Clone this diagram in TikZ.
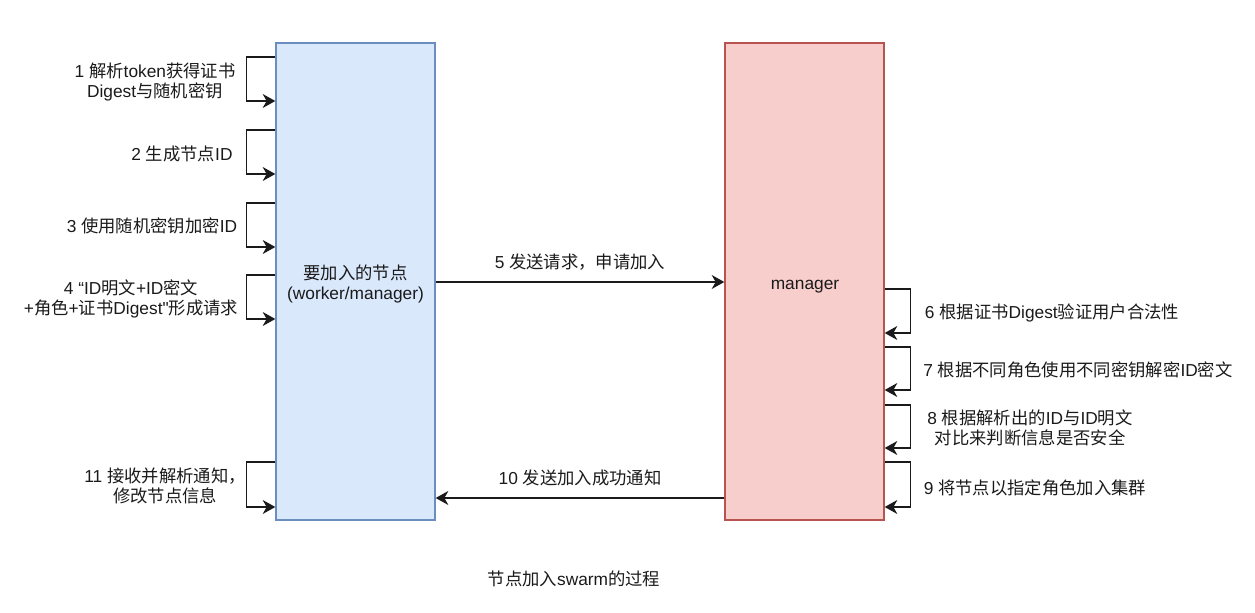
\documentclass[tikz,border=0pt]{standalone}
\usepackage{fontspec}
\usetikzlibrary{arrows.meta}
\setmainfont{Liberation Sans}
\newfontfamily\cjk{Noto Sans CJK SC}
\newfontfamily\latin{Liberation Sans}
\XeTeXinterchartokenstate=1
\newXeTeXintercharclass\CJKcls
\newcount\mycc
\mycc="3000 \loop \XeTeXcharclass\mycc=\CJKcls \ifnum\mycc<"303F \advance\mycc by 1 \repeat
\mycc="4E00 \loop \XeTeXcharclass\mycc=\CJKcls \ifnum\mycc<"9FFF \advance\mycc by 1 \repeat
\mycc="FF00 \loop \XeTeXcharclass\mycc=\CJKcls \ifnum\mycc<"FFEF \advance\mycc by 1 \repeat
\XeTeXinterchartoks 0 \CJKcls = {\cjk}
\XeTeXinterchartoks 4095 \CJKcls = {\cjk}
\XeTeXinterchartoks \CJKcls 0 = {\latin}
\XeTeXinterchartoks 4095 0 = {\latin}
\definecolor{lfill}{HTML}{DAE8FC}
\definecolor{ldraw}{HTML}{6C8EBF}
\definecolor{rfill}{HTML}{F8CECC}
\definecolor{rdraw}{HTML}{B85450}
\definecolor{txt}{HTML}{1A1A1A}
\tikzset{
  every node/.style={font=\fontsize{13}{15.5}\selectfont, text=txt, inner sep=0pt},
  bigbox/.style={draw, line width=1pt, minimum width=119.25pt, minimum height=357.75pt},
  arr/.style={draw=txt, line width=1pt, -{Stealth[length=9.5pt,width=10.5pt,inset=3pt]}},
  lbl/.style={align=center},
}
\begin{document}
\begin{tikzpicture}[x=0.75pt,y=-0.75pt]
\useasboundingbox (0,0) rectangle (1255,613);
\node[bigbox, fill=lfill, draw=ldraw] (L) at (355.5,281.5) {};
\node[bigbox, fill=rfill, draw=rdraw] (R) at (804.5,281.5) {};
\node[lbl] (Lt) at (355.5,284) {要加入的节点\\(worker/manager)};
\node[lbl] (Rt) at (805,287) {manager};
% main arrows
\draw[arr] (L.east |- 0,282) -- node[midway, yshift=15pt] (t5) {5 发送请求，申请加入} (R.west |- 0,282);
\draw[arr] (R.west |- 0,498) -- node[midway, yshift=15pt] (t10) {10 发送加入成功通知} (L.east |- 0,498);
% left self loops
\draw[arr] (L.west |- 0,57) -- ++(-29,0) |- (L.west |- 0,101);
\draw[arr] (L.west |- 0,130) -- ++(-29,0) |- (L.west |- 0,174);
\draw[arr] (L.west |- 0,203) -- ++(-29,0) |- (L.west |- 0,247);
\draw[arr] (L.west |- 0,275) -- ++(-29,0) |- (L.west |- 0,319);
\draw[arr] (L.west |- 0,462) -- ++(-29,0) |- (L.west |- 0,507);
% right self loops
\draw[arr] (R.east |- 0,289) -- ++(26,0) |- (R.east |- 0,333);
\draw[arr] (R.east |- 0,347) -- ++(26,0) |- (R.east |- 0,390);
\draw[arr] (R.east |- 0,405) -- ++(26,0) |- (R.east |- 0,448);
\draw[arr] (R.east |- 0,462) -- ++(26,0) |- (R.east |- 0,507);
% left labels
\node[lbl] (t1) at (155,82) {1 解析token获得证书\\Digest与随机密钥};
\node[lbl] (t2) at (182,154) {2 生成节点ID};
\node[lbl] (t3) at (152,226) {3 使用随机密钥加密ID};
\node[lbl] (t4) at (131,299) {4 “ID明文+ID密文\\+角色+证书Digest"形成请求};
\node[lbl] (t11) at (165,486) {11 接收并解析通知，\\修改节点信息};
% right labels
\node[lbl] (t6) at (1052,313) {6 根据证书Digest验证用户合法性};
\node[lbl] (t7) at (1078,370) {7 根据不同角色使用不同密钥解密ID密文};
\node[lbl] (t8) at (1030,428) {8 根据解析出的ID与ID明文\\对比来判断信息是否安全};
\node[lbl] (t9) at (1035,488) {9 将节点以指定角色加入集群};
% caption
\node (cap) at (574,579) {节点加入swarm的过程};
\end{tikzpicture}
\end{document}
